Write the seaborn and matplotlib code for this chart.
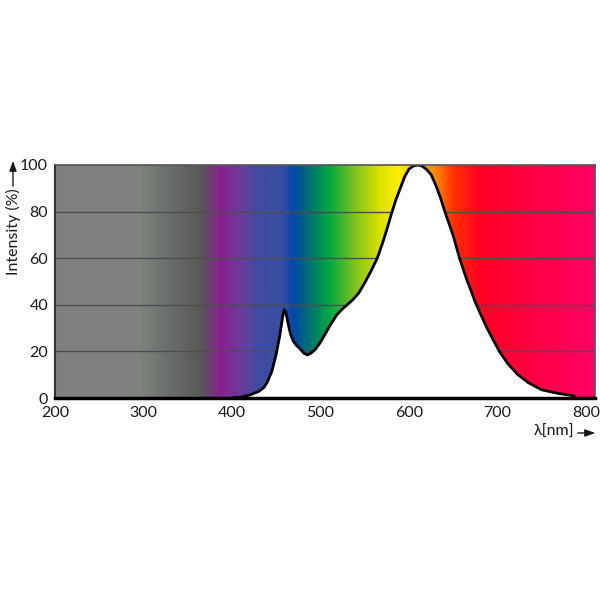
import numpy as np
import pandas as pd
import matplotlib
matplotlib.use("Agg")
import matplotlib.pyplot as plt
from matplotlib.colors import LinearSegmentedColormap
import seaborn as sns

# ---- data ----
wavelength = [400, 410, 420, 430, 436, 440, 445, 450, 454, 457, 459, 461, 463, 466, 469, 473,
              477, 481, 485, 489, 494, 500, 506, 512, 518, 524, 530, 536, 543, 550, 557, 564,
              570, 575, 580, 585, 590, 595, 600, 605, 610, 615, 620, 625, 630, 635, 640, 645,
              650, 657, 665, 676, 688, 702, 712, 723, 735, 750, 768, 780, 786, 787]
intensity = [0.0, 0.4, 1.3, 2.8, 4.5, 7.0, 11.5, 19.0, 27.0, 34.5, 37.8, 36.5, 32.5, 27.5, 24.5, 22.5,
             21.0, 19.3, 18.5, 19.2, 20.8, 24.0, 28.0, 32.0, 35.5, 38.0, 40.0, 42.0, 45.0, 49.5, 54.5, 60.0,
             66.5, 72.5, 79.0, 85.0, 90.0, 95.0, 98.3, 99.6, 100.0, 99.5, 98.0, 95.8, 91.5, 86.5, 80.5, 75.0,
             69.5, 60.0, 51.0, 40.0, 30.0, 20.0, 14.5, 10.0, 6.5, 3.5, 2.0, 1.3, 1.0, 0.0]

x_ticks = [200, 300, 400, 500, 600, 700, 800]
y_ticks = [0, 20, 40, 60, 80, 100]

# background spectrum colour stops (wavelength, colour)
bg_stops_nm = [200, 287, 295, 365, 387, 410, 430, 456, 470, 487, 510, 540, 566, 588, 605, 630, 650, 681, 737, 810]
bg_colors = ["#808080", "#808080", "#7e837e", "#565956", "#8a2090", "#6a3c9c", "#3f4ca2", "#3a4ea2",
             "#0048aa", "#007272", "#00a842", "#84c41e", "#d8e000", "#fff000", "#ffc000", "#ff8a00",
             "#ff3000", "#ff0022", "#ff0042", "#ff0068"]

sns.set_style("white")
plt.rcParams['font.family'] = ['Lato', 'DejaVu Sans']

fig = plt.figure(figsize=(6, 6), dpi=100)
ax = fig.add_axes([55/600, 1 - 398/600, (595 - 55)/600, (398 - 165)/600])

xmin, xmax = 200, 810
pos = [(v - xmin) / (xmax - xmin) for v in bg_stops_nm]
cmap = LinearSegmentedColormap.from_list("spec", list(zip(pos, bg_colors)), N=1024)
grad = np.linspace(0, 1, 1024).reshape(1, -1)
ax.imshow(grad, cmap=cmap, aspect="auto", extent=[xmin, xmax, 0, 100], zorder=0)

for yv in y_ticks[1:-1]:
    ax.axhline(yv, color="#4d4d4d", lw=1.0, zorder=1)

df = pd.DataFrame({"wavelength": wavelength, "intensity": intensity})
ax.fill_between(df["wavelength"], df["intensity"], 0, color="white", zorder=2, lw=0)
sns.lineplot(data=df, x="wavelength", y="intensity", color="black", lw=2, ax=ax, zorder=3,
             sort=False, estimator=None)

ax.set_xlim(xmin, xmax)
ax.set_ylim(0, 100)
ax.set_xticks(x_ticks)
ax.set_yticks(y_ticks)
ax.tick_params(axis="both", length=0, labelsize=11.5, colors="#1a1a1a")
ax.tick_params(axis="x", pad=6)
ax.tick_params(axis="y", pad=5)
ax.set_xlabel("")
ax.set_ylabel("")

for s in ["top", "right"]:
    ax.spines[s].set_color("#555555")
    ax.spines[s].set_linewidth(1.2)
ax.spines["left"].set_color("#333333")
ax.spines["left"].set_linewidth(1.5)
ax.spines["bottom"].set_color("black")
ax.spines["bottom"].set_linewidth(2.5)
for s in ax.spines.values():
    s.set_zorder(5)

# y axis label with arrow
fig.text(13/600, 1 - 232/600, "Intensity (%)", rotation=90, ha="center", va="center",
         fontsize=11.5, color="#1a1a1a")
fig.add_artist(matplotlib.patches.FancyArrowPatch((13/600, 1 - 189/600), (13/600, 1 - 158/600),
               transform=fig.transFigure, arrowstyle="-|>,head_length=0.5,head_width=0.18",
               color="#1a1a1a", lw=1, mutation_scale=12))
# x axis label with arrow
fig.text(574/600, 1 - 432/600, "λ[nm]", ha="right", va="center", fontsize=11.5, color="#1a1a1a")
fig.add_artist(matplotlib.patches.FancyArrowPatch((575/600, 1 - 433/600), (598/600, 1 - 433/600),
               transform=fig.transFigure, arrowstyle="-|>,head_length=0.5,head_width=0.18",
               color="#1a1a1a", lw=1, mutation_scale=12))

fig.savefig("out.png", dpi=100)
